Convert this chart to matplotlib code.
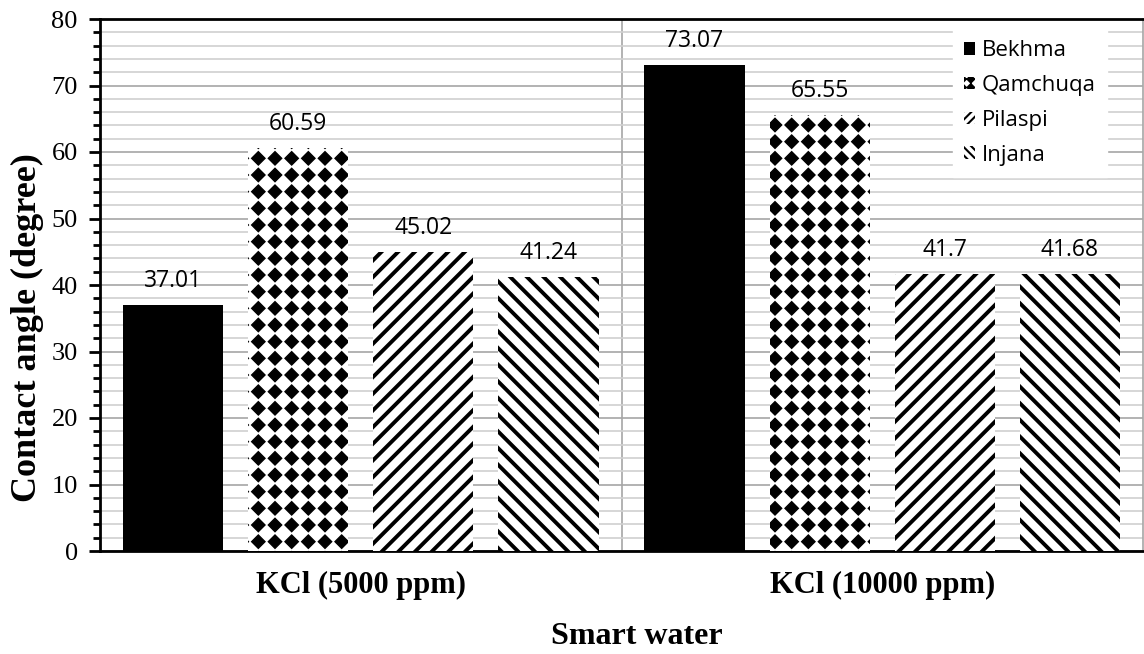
import numpy as np
import matplotlib
matplotlib.use('Agg')
import matplotlib.pyplot as plt
import matplotlib.hatch as mhatch
from matplotlib.patches import Patch
from matplotlib.path import Path
from matplotlib.ticker import MultipleLocator

# data
categories = ['KCl (5000 ppm)', 'KCl (10000 ppm)']
series = ['Bekhma', 'Qamchuqa', 'Pilaspi', 'Injana']
bekhma = [37.01, 73.07]
qamchuqa = [60.59, 65.55]
pilaspi = [45.02, 41.7]
injana = [41.24, 41.68]
labels_txt = [['37.01', '73.07'], ['60.59', '65.55'], ['45.02', '41.7'], ['41.24', '41.68']]


# square grid of filled diamonds, used in place of the '*' hatch
class DiamondGrid(mhatch.HatchPatternBase):
    def __init__(self, hatch, density):
        self.n = hatch.count('*') * density
        self.num_vertices = self.n * self.n * 5

    def set_vertices_and_codes(self, vertices, codes):
        r = 0.40 / self.n
        base = np.array([[0, -r], [r, 0], [0, r], [-r, 0], [0, -r]])
        k = 0
        for i in range(self.n):
            for j in range(self.n):
                c = np.array([(i + 0.5) / self.n, (j + 0.5) / self.n])
                vertices[k:k + 5] = base + c
                codes[k:k + 5] = [Path.MOVETO, Path.LINETO, Path.LINETO,
                                  Path.LINETO, Path.CLOSEPOLY]
                k += 5


mhatch._hatch_types = [h for h in mhatch._hatch_types if h is not mhatch.Stars] + [DiamondGrid]

serif = 'Liberation Serif'
sans = 'Open Sans'

fig = plt.figure(figsize=(11.44, 6.54), dpi=100)
ax = fig.add_axes([100 / 1144, 1 - 551 / 654, 1043 / 1144, 532 / 654])

x = np.arange(len(categories))
width = 0.192
offsets = [-0.36, -0.12, 0.12, 0.36]
values = [bekhma, qamchuqa, pilaspi, injana]
styles = [
    dict(color='black', hatch=None, hlw=1.0),
    dict(color='white', hatch='*', hlw=1.0),
    dict(color='white', hatch='//', hlw=2.8),
    dict(color='white', hatch='\\\\', hlw=2.8),
]

handles = []
for i, (name, vals, st) in enumerate(zip(series, values, styles)):
    plt.rcParams['hatch.linewidth'] = st['hlw']
    ax.bar(x + offsets[i], vals, width=width, color=st['color'],
           edgecolor='black', linewidth=0, hatch=st['hatch'], label=name, zorder=3)
    for xi, v, t in zip(x + offsets[i], vals, labels_txt[i]):
        ax.annotate(t, (xi, v), xytext=(0, 13), textcoords='offset points',
                    ha='center', va='baseline', fontsize=16.5, family=sans, zorder=4)
    handles.append(Patch(facecolor=st['color'], edgecolor='black', linewidth=0,
                         hatch=st['hatch'] * 2 if st['hatch'] else None, label=name))

ax.set_xlim(-0.5, 1.5)
ax.set_ylim(0, 80)
ax.set_xticks(x)
ax.set_xticklabels(categories, fontsize=22, fontweight='bold', family=serif)
ax.tick_params(axis='x', length=0, pad=14)

ax.yaxis.set_major_locator(MultipleLocator(10))
ax.yaxis.set_minor_locator(MultipleLocator(2))
ax.tick_params(axis='y', which='major', direction='out', length=8, width=2, labelsize=19, pad=8)
ax.tick_params(axis='y', which='minor', direction='out', length=5, width=2)
for lab in ax.get_yticklabels():
    lab.set_family(serif)

ax.grid(axis='y', which='minor', color='#d0d0d0', linewidth=1.2, zorder=0)
ax.grid(axis='y', which='major', color='#a6a6a6', linewidth=1.2, zorder=0)
ax.axvline(0.5, color='#a6a6a6', linewidth=1.2, zorder=0)
ax.set_axisbelow(True)

for s in ['left', 'bottom', 'top']:
    ax.spines[s].set_linewidth(2)
    ax.spines[s].set_color('black')
ax.spines['right'].set_color('#a6a6a6')
ax.spines['right'].set_linewidth(1.2)

ax.set_ylabel('Contact angle (degree)', fontsize=26, fontweight='bold', family=serif)
ax.yaxis.label.set_verticalalignment('center')
ax.yaxis.set_label_coords((27 - 100) / 1043, (551 - 328) / 532)
ax.set_xlabel('Smart water', fontsize=23, fontweight='bold', family=serif)
ax.xaxis.label.set_verticalalignment('center')
ax.xaxis.set_label_coords((637 - 100) / 1043, (551 - 636) / 532)

plt.rcParams['hatch.linewidth'] = 1.5
leg = ax.legend(handles=handles, loc='upper left', bbox_to_anchor=(942 / 1144, 1 - 18 / 654),
                bbox_transform=fig.transFigure, prop={'family': sans, 'size': 16},
                frameon=True, fancybox=False, framealpha=1, edgecolor='white',
                handlelength=0.5, handleheight=0.5, handletextpad=0.3,
                labelspacing=0.62, borderpad=0.5)
leg.set_zorder(5)

fig.savefig('out.png', dpi=100)
